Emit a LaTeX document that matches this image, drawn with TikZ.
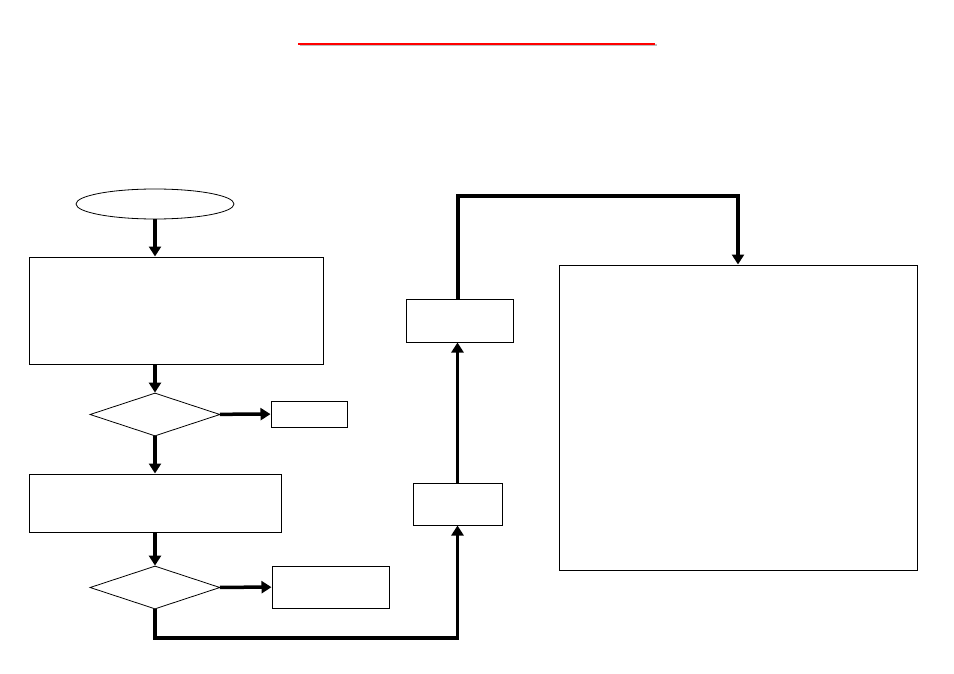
\documentclass[tikz,border=0pt]{standalone}
\usetikzlibrary{
	arrows.meta,
	positioning,
	shapes.geometric
}
\begin{document}
\begin{tikzpicture}[x=1pt, y=-1pt,
  caja/.style={rectangle, draw, line width=1pt, inner sep=0pt},
  decision/.style={diamond, draw, line width=0.8pt, inner sep=0pt,
    minimum width=130pt, minimum height=43pt},
  flecha/.style={-{Triangle[length=10pt, width=12pt]}, line width=3.5pt}
]
\useasboundingbox (0,0) rectangle (954,674);
% titulo
\draw[black!25, line width=2pt] (300,45.5) -- (657,45.5);
\draw[red, line width=2pt] (298,44) -- (655,44);
\node[ellipse, draw, line width=0.8pt, minimum width=158pt, minimum height=30pt] (inicio) at (155,204) {};
\node[caja, minimum width=294pt, minimum height=107pt] (datos) at (176,310.5) {};
\node[decision] (cond1) at (155,414.5) {};
\node[caja, minimum width=76pt, minimum height=26pt] (fin1) at (309,414) {};
\node[caja, minimum width=252pt, minimum height=58pt] (proceso) at (155,503) {};
\node[decision] (cond2) at (155,587.5) {};
\node[caja, minimum width=117pt, minimum height=42pt] (fin2) at (330.5,587) {};
\node[caja, minimum width=89pt, minimum height=42pt] (paso1) at (457.5,504) {};
\node[caja, minimum width=107pt, minimum height=43pt] (paso2) at (459.5,320.5) {};
\node[caja, minimum width=358pt, minimum height=305pt] (resultado) at (738,417.5) {};
\coordinate (esquina1) at (155,638);
\coordinate (esquina2) at (458,196);
\draw[flecha] (inicio) -- (inicio |- datos.north);
\draw[flecha] (cond1.north |- datos.south) -- (cond1);
\draw[flecha] (cond1) -- (fin1);
\draw[flecha] (cond1) -- (proceso);
\draw[flecha] (proceso) -- (cond2);
\draw[flecha] (cond2) -- (fin2);
\draw[flecha] (cond2.south) -- (esquina1) -| (paso1.south);
\draw[flecha] (paso1) -- (paso1 |- paso2.south);
\draw[flecha] (paso2.north -| esquina2) -- (esquina2) -| (resultado.north);
\end{tikzpicture}
\end{document}
